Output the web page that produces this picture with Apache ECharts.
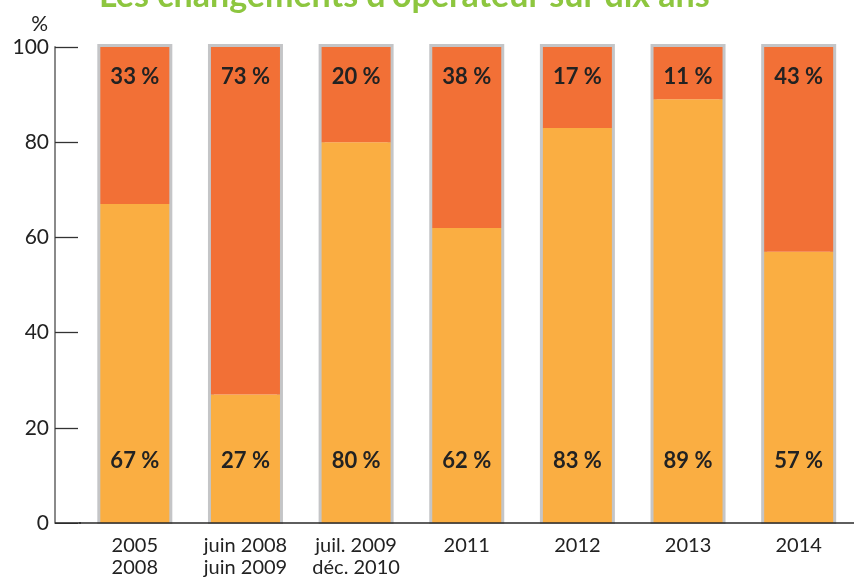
<!DOCTYPE html>
<html><head><meta charset="utf-8">
<script src="https://cdn.jsdelivr.net/npm/echarts@6/dist/echarts.min.js"></script>
<style>html,body{margin:0;padding:0;background:#fff}#c{width:854px;height:579px}</style>
</head><body><div id="c"></div>
<script>
const titleText = "Les changements d'opérateur sur dix ans";
const categories = ['2005\n2008', 'juin 2008\njuin 2009', 'juil. 2009\ndéc. 2010', '2011', '2012', '2013', '2014'];
const stayedVals = [67, 27, 80, 62, 83, 89, 57];
const changedVals = [33, 73, 20, 38, 17, 11, 43];
const yTicks = [0, 20, 40, 60, 80, 100];

const chart = echarts.init(document.getElementById('c'), null, {renderer: 'canvas'});
const font = 'Lato, "Noto Sans", sans-serif';
const gridLeft = 79.5, gridTop = 47, gridBottom = 56;
chart.setOption({
  animation: false,
  backgroundColor: '#fff',
  title: {
    text: titleText, left: 94, top: -26,
    textStyle: {color: '#8DC63F', fontWeight: 'bold', fontSize: 34, fontFamily: font}
  },
  grid: {left: gridLeft, right: -9.5, top: gridTop, bottom: gridBottom, containLabel: false},
  xAxis: {
    type: 'category', data: categories, z: 5,
    axisLine: {lineStyle: {color: '#2a2a2a', width: 1.5}},
    axisTick: {show: false},
    axisLabel: {interval: 0, color: '#222', fontSize: 20, fontFamily: font, lineHeight: 22, margin: 12}
  },
  yAxis: {
    type: 'value', min: yTicks[0], max: yTicks[yTicks.length - 1], interval: 20, offset: 24.5,
    name: '%', nameLocation: 'end', nameGap: 12,
    nameTextStyle: {color: '#222', fontSize: 21, fontFamily: font, align: 'right', padding: [0, 7, 0, 0]},
    axisLine: {show: true, lineStyle: {color: '#8a8a8a', width: 2}},
    axisTick: {show: true, inside: true, length: 23, lineStyle: {color: '#333', width: 1.3}},
    splitLine: {show: false},
    axisLabel: {color: '#222', fontSize: 21, fontFamily: font, margin: 6}
  },
  series: [
    {
      name: 'stayed', type: 'bar', stack: 'a', data: stayedVals, barWidth: 69,
      showBackground: true,
      backgroundStyle: {color: 'rgba(0,0,0,0)', borderColor: '#C4C5C7', borderWidth: 6},
      itemStyle: {color: '#FAAE42'},
      label: {show: true, position: 'insideBottom', distance: 51, formatter: '{c} %',
        color: '#222', fontWeight: 'bold', fontSize: 22, fontFamily: font}
    },
    {
      name: 'changed', type: 'bar', stack: 'a', data: changedVals, barWidth: 69,
      itemStyle: {color: '#F27036'},
      label: {show: true, position: 'insideTop', distance: 19, formatter: '{c} %',
        color: '#222', fontWeight: 'bold', fontSize: 22, fontFamily: font}
    }
  ],
  graphic: [
    {type: 'rect', z: 50, shape: {x: 55, y: 524, width: 800, height: 4}, style: {fill: '#fff'}},
    {type: 'line', z: 50, shape: {x1: 55, y1: 523, x2: 81, y2: 523}, style: {stroke: '#2a2a2a', lineWidth: 1.5}}
  ]
});
</script></body></html>
